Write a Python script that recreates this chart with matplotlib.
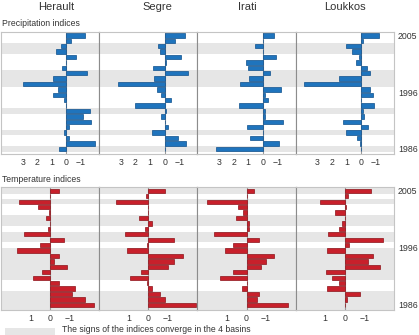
import numpy as np
import matplotlib
matplotlib.use("Agg")
import matplotlib.pyplot as plt
from matplotlib.patches import Rectangle

plt.rcParams['font.family'] = ['Liberation Sans', 'DejaVu Sans']

basins = ['Herault', 'Segre', 'Irati', 'Loukkos']

# one value per bar, top bar (2005) first, bottom bar (1986) last
prec_herault = [-1.25, -0.34, 0.34, 0.70, -0.66, 0.0, 0.30, -1.43, 0.93, 2.98, 0.57,
                0.89, 0.14, 0.0, -1.59, -1.16, -1.68, -0.18, 0.14, -0.20, -1.98, 0.48]
prec_segre = [-1.39, -0.73, 0.45, 0.34, -1.10, -0.09, 0.77, -1.59, 0.73, 3.19, 0.51,
              0.28, -0.41, 2.03, -0.07, 0.25, -0.02, -0.23, 0.89, -0.91, -1.43, -0.02]
prec_irati = [-0.74, 0.0, 0.52, 0.0, -0.93, 1.15, 0.99, -0.46, 0.97, 1.54, -1.24,
              -0.17, -0.32, 1.60, -0.17, -0.17, -1.40, 1.12, 0.0, 0.89, -1.10, 3.24]
prec_loukkos = [-1.22, -0.16, 1.00, 0.61, 0.15, 0.35, -0.41, -0.59, 1.50, 3.93, -0.64,
                -0.83, 0.0, -0.91, -0.14, -0.22, 1.25, -0.48, 1.00, 0.27, 0.09, 0.0]

temp_herault = [-0.44, 0.0, 1.58, 0.63, 0.05, 0.19, 0.0, 0.12, 1.31, -0.73, 0.53,
                1.66, -0.44, -0.22, -0.85, 0.41, 0.85, -0.47, -1.25, -1.14, -1.80, -2.22]
temp_segre = [-0.85, 0.10, 1.64, 0.0, 0.0, 0.49, -0.19, 0.19, 1.17, -1.31, 0.05,
              1.08, -1.76, -1.31, -1.02, 0.36, 0.93, 0.08, -0.19, -0.58, -0.85, -2.41]
temp_irati = [-0.39, 0.0, 2.03, 0.44, 0.17, 0.55, -0.13, -0.12, 1.68, -0.66, 0.69,
              1.07, -1.41, -0.97, -0.75, 0.71, 1.37, 0.0, 0.25, -0.63, -0.56, -2.13]
temp_loukkos = [-1.34, -0.18, 1.25, -0.09, 0.48, 0.0, 0.12, 0.27, 0.86, -1.93, -0.22,
                0.92, -1.44, -1.18, -1.80, 0.97, 0.64, 0.29, 0.88, -0.76, -0.12, 0.0]

# rows (first, last) where the signs agree in the 4 basins
prec_bands = [(2, 3), (7, 9), (14, 14), (18, 18), (21, 21)]
temp_bands = [(-1, 0), (2, 2), (5, 6), (8, 9), (11, 16), (19, 22)]

year_labels = ['2005', '1996', '1986']
year_rows = [0, 10.5, 21]

prec = [prec_herault, prec_segre, prec_irati, prec_loukkos]
temp = [temp_herault, temp_segre, temp_irati, temp_loukkos]

BLUE, BLUE_EDGE = '#1f74bd', '#0e4f8c'
RED, RED_EDGE = '#c8202b', '#8c1219'
BAND = '#e6e6e6'
TXT = '#333333'

fig = plt.figure(figsize=(4.19, 3.35), dpi=100)

x0 = 1 / 419
pw = 98.2 / 419


def panel(i, bottom, height, vals, bands, xlim, ticks, tick_lbls, col, edge):
    ax = fig.add_axes([x0 + i * pw, bottom, pw, height])
    rows = np.arange(len(vals))
    for a, b in bands:
        ax.axhspan(a - 0.5, b + 0.5, color=BAND, lw=0, zorder=0)
    ax.axvline(0, color='#9a9a9a', lw=0.8, zorder=1)
    ax.barh(rows, vals, height=0.8, color=col, edgecolor=edge, lw=0.5, zorder=2)
    ax.set_xlim(*xlim)
    ax.set_ylim(21.95, -0.68)
    ax.set_xticks(ticks)
    ax.set_xticklabels(tick_lbls)
    ax.tick_params(length=0, labelsize=6.3, labelcolor=TXT, pad=3)
    for s in ['top', 'bottom']:
        ax.spines[s].set_color('#c4c4c4')
        ax.spines[s].set_linewidth(0.8)
    for s in ['left', 'right']:
        ax.spines[s].set_color('#8c8c8c')
        ax.spines[s].set_linewidth(0.8)
    if i == 0:
        ax.spines['left'].set_color('#c4c4c4')
    if i == 3:
        ax.yaxis.tick_right()
        ax.set_yticks(year_rows)
        ax.set_yticklabels(year_labels)
        ax.spines['right'].set_color('#c4c4c4')
    else:
        ax.set_yticks([])
    return ax


for i in range(4):
    panel(i, 0.5403, 0.3651, prec[i], prec_bands, (4.48, -2.24),
          [3, 2, 1, 0, -1], ['3', '2', '1', '0', '\u22121'], BLUE, BLUE_EDGE)
    panel(i, 0.0746, 0.3666, temp[i], temp_bands, (2.5, -2.5),
          [1, 0, -1], ['1', '0', '\u22121'], RED, RED_EDGE)

title_x = [56, 157, 247, 345]
for name, x in zip(basins, title_x):
    fig.text(x / 419, 1 - 6.5 / 335, name, ha='center', va='center', fontsize=8, color=TXT)

fig.text(2 / 419, 1 - 23.5 / 335, 'Precipitation indices', ha='left', va='center',
         fontsize=6.2, color=TXT)
fig.text(2 / 419, 1 - 180 / 335, 'Temperature indices', ha='left', va='center',
         fontsize=6.2, color=TXT)

fig.patches.append(Rectangle((5 / 419, 0), 50 / 419, 7 / 335, transform=fig.transFigure,
                             color=BAND, lw=0))
fig.text(62 / 419, 1.5 / 335, 'The signs of the indices converge in the 4 basins',
         ha='left', va='bottom', fontsize=6.2, color=TXT)

fig.savefig('out.png', dpi=100)
